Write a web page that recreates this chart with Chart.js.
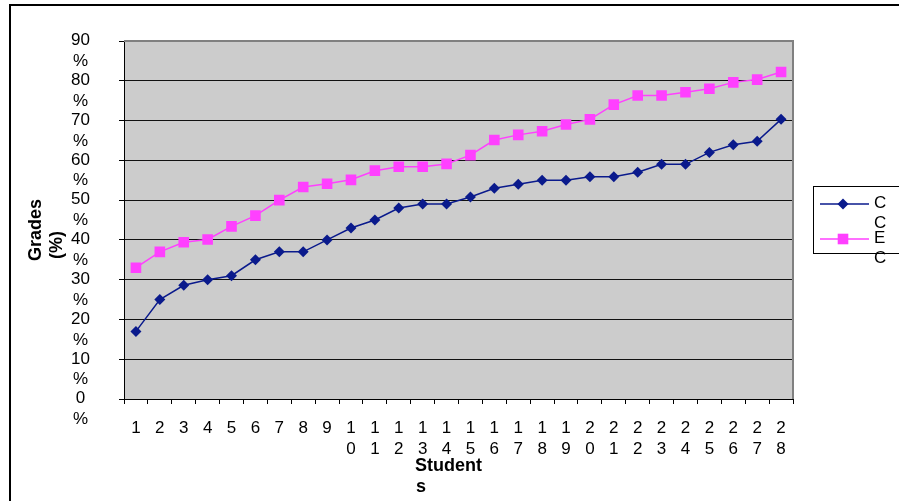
<!DOCTYPE html>
<html lang="en">
<head>
    <meta charset="UTF-8">
    <title>Grades by Student</title>
    <script src="https://cdn.jsdelivr.net/npm/chart.js"></script>
    <style>
        html, body { margin: 0; padding: 0; background: #fff; }
        #wrap { width: 899px; height: 501px; }
    </style>
</head>
<body>
    <div id="wrap"><canvas id="myChart" width="899" height="501"></canvas></div>

    <script>
        'use strict';
        // chart data
        var students = ['1', '2', '3', '4', '5', '6', '7', '8', '9', '10', '11', '12', '13', '14',
                        '15', '16', '17', '18', '19', '20', '21', '22', '23', '24', '25', '26', '27', '28'];
        var ccGrades = [17, 25, 28.6, 30, 31, 35, 37, 37, 40, 43, 45, 48, 49, 49,
                        50.8, 53, 54, 55, 55, 55.9, 55.9, 57, 59, 59, 62, 63.9, 64.8, 70.3];
        var ecGrades = [33, 37, 39.4, 40.1, 43.4, 46.1, 50, 53.3, 54.1, 55.1, 57.4, 58.4, 58.4, 59.1,
                        61.3, 65.1, 66.4, 67.3, 69, 70.3, 74, 76.3, 76.3, 77.1, 78, 79.6, 80.3, 82.2];
        var seriesNames = ['CC', 'EC'];
        var yTicks = [0, 10, 20, 30, 40, 50, 60, 70, 80, 90];

        var FONT = 'Arial, "Liberation Sans", sans-serif';
        var NAVY = '#0a1a8c';
        var PINK = '#ff40ff';

        // white page, outer frame and grey plot area
        var backgroundPlugin = {
            id: 'background',
            beforeDraw: function(chart) {
                var ctx = chart.ctx;
                var a = chart.chartArea;
                ctx.save();
                ctx.fillStyle = '#fff';
                ctx.fillRect(0, 0, chart.width, chart.height);
                ctx.strokeStyle = '#000';
                ctx.lineWidth = 2;
                ctx.strokeRect(10, 5, 1000, 1000);
                ctx.fillStyle = '#cccccc';
                ctx.fillRect(a.left, a.top, a.right - a.left, a.bottom - a.top);
                ctx.restore();
            },
            beforeDatasetsDraw: function(chart) {
                var ctx = chart.ctx;
                var a = chart.chartArea;
                ctx.save();
                ctx.strokeStyle = '#808080';
                ctx.lineWidth = 2;
                ctx.beginPath();
                ctx.moveTo(a.left, a.top);
                ctx.lineTo(a.right, a.top);
                ctx.lineTo(a.right, a.bottom);
                ctx.stroke();
                ctx.restore();
            }
        };

        // legend box like the original, labels wrapped one letter per line
        var legendPlugin = {
            id: 'wrappedLegend',
            afterDraw: function(chart) {
                var ctx = chart.ctx;
                ctx.save();
                ctx.strokeStyle = '#000';
                ctx.lineWidth = 1;
                ctx.strokeRect(813.5, 186.5, 200, 67);
                chart.data.datasets.forEach(function(ds, i) {
                    var y = 204 + i * 35;
                    ctx.strokeStyle = ds.borderColor;
                    ctx.lineWidth = ds.borderWidth;
                    ctx.beginPath();
                    ctx.moveTo(820, y);
                    ctx.lineTo(869, y);
                    ctx.stroke();
                    ctx.fillStyle = ds.pointBackgroundColor;
                    ctx.beginPath();
                    if (ds.pointStyle === 'rectRot') {
                        var r = ds.pointRadius;
                        ctx.moveTo(843, y - r);
                        ctx.lineTo(843 + r, y);
                        ctx.lineTo(843, y + r);
                        ctx.lineTo(843 - r, y);
                        ctx.closePath();
                    } else {
                        var s = ds.pointRadius * Math.SQRT1_2;
                        ctx.rect(843 - s, y - s, 2 * s, 2 * s);
                    }
                    ctx.fill();
                    ctx.fillStyle = '#000';
                    ctx.font = '17px ' + FONT;
                    ctx.textAlign = 'left';
                    ctx.textBaseline = 'middle';
                    ds.label.split('').forEach(function(ch, k) {
                        ctx.fillText(ch, 874, y - 1 + k * 20);
                    });
                });
                ctx.restore();
            }
        };

        var ctx = document.getElementById('myChart').getContext('2d');
        var myChart = new Chart(ctx, {
            type: 'line',
            data: {
                labels: students,
                datasets: [{
                    label: seriesNames[0],
                    data: ccGrades,
                    borderColor: NAVY,
                    backgroundColor: NAVY,
                    pointBackgroundColor: NAVY,
                    pointBorderColor: NAVY,
                    borderWidth: 1.5,
                    pointStyle: 'rectRot',
                    pointRadius: 5.5,
                    pointBorderWidth: 0,
                    tension: 0
                }, {
                    label: seriesNames[1],
                    data: ecGrades,
                    borderColor: PINK,
                    backgroundColor: PINK,
                    pointBackgroundColor: PINK,
                    pointBorderColor: PINK,
                    borderWidth: 1.5,
                    pointStyle: 'rect',
                    pointRadius: 7.5,
                    pointBorderWidth: 0,
                    tension: 0
                }]
            },
            options: {
                responsive: false,
                animation: false,
                layout: { padding: { left: 20, right: 106, top: 41, bottom: 0 } },
                plugins: {
                    legend: { display: false },
                    tooltip: { enabled: false }
                },
                scales: {
                    x: {
                        offset: true,
                        grid: { offset: true, drawOnChartArea: false, drawTicks: true, tickLength: 5, tickColor: '#000', tickWidth: 1 },
                        border: { display: true, color: '#000', width: 1 },
                        ticks: {
                            color: '#000',
                            font: { family: FONT, size: 17, lineHeight: 1.22 },
                            padding: 14,
                            maxRotation: 0,
                            autoSkip: false,
                            callback: function(v, i) { return students[i].split(''); }
                        },
                        title: {
                            display: true,
                            text: ['Student    ', 's               '],
                            color: '#000',
                            font: { family: FONT, size: 18, weight: 'bold', lineHeight: 1.15 },
                            padding: { top: 0, bottom: 4 }
                        },
                        afterFit: function(scale) {
                            scale.height = 102;
                            scale.paddingLeft = 0;
                            scale.paddingRight = 0;
                        }
                    },
                    y: {
                        min: 0,
                        max: 90,
                        afterBuildTicks: function(scale) {
                            scale.ticks = yTicks.map(function(v) { return { value: v }; });
                        },
                        grid: {
                            color: function(c) { return c.tick && c.tick.value === 90 ? '#808080' : '#111'; },
                            lineWidth: 1,
                            tickLength: 5,
                            tickColor: '#000'
                        },
                        border: { display: true, color: '#000', width: 1 },
                        ticks: {
                            color: '#000',
                            font: { family: FONT, size: 17, lineHeight: 1.22 },
                            padding: 29,
                            labelOffset: 10,
                            crossAlign: 'center',
                            autoSkip: false,
                            callback: function(v) { return [String(v), '%']; }
                        },
                        title: {
                            display: true,
                            text: ['Grades    ', '(%)          '],
                            color: '#000',
                            font: { family: FONT, size: 18, weight: 'bold', lineHeight: 1.15 },
                            padding: { top: 6, bottom: 0 }
                        },
                        afterFit: function(scale) {
                            scale.width = 104;
                            scale.paddingTop = 0;
                            scale.paddingBottom = 0;
                        }
                    }
                }
            },
            plugins: [backgroundPlugin, legendPlugin]
        });
    </script>
</body>
</html>
